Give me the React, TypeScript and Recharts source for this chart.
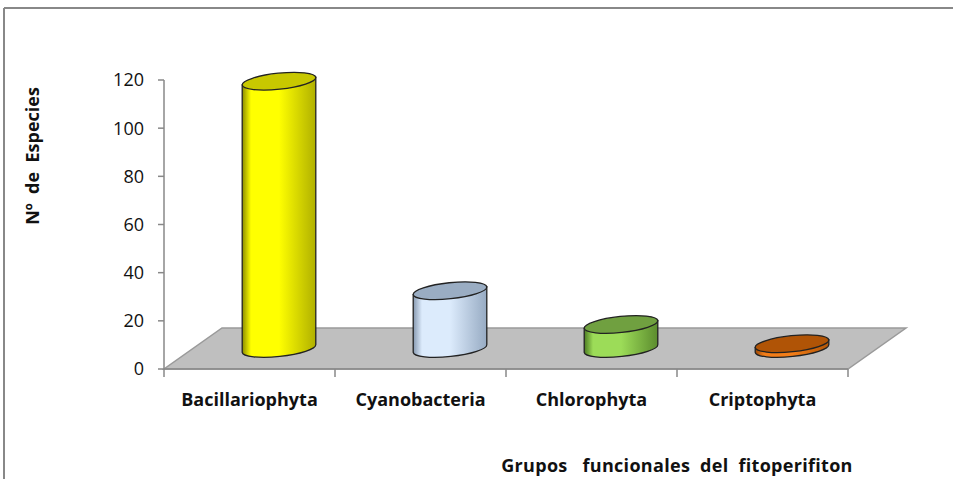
import React from 'react';
import { BarChart, Bar, XAxis, YAxis, Customized } from 'recharts';

const categories = ['Bacillariophyta', 'Cyanobacteria', 'Chlorophyta', 'Criptophyta'];
const especies = [111, 24, 10, 2];
const yTicks = [0, 20, 40, 60, 80, 100, 120];
const yTitle = 'Nº  de  Especies';
const xTitle = 'Grupos   funcionales  del  fitoperifiton';

const data = categories.map((name, i) => ({ name, especies: especies[i] }));

// colores: [borde izq, centro, borde der] del cuerpo y tapa
const bodyColors = [
  ['#8c8c00', '#ffff00', '#b0b000'],
  ['#8799b0', '#dcebfc', '#97abc3'],
  ['#4c7a22', '#9cdc58', '#5c8c2e'],
  ['#9a4604', '#f27d18', '#b35606'],
];
const topColors = ['#c8c800', '#9aadc3', '#70a040', '#b05406'];

const W = 953;
const H = 479;
const M = { top: 80, right: 105, bottom: 60, left: 104 };
const Y_AXIS_W = 60;
const PLOT_L = M.left + Y_AXIS_W;
const PLOT_R = W - M.right;
const PLOT_B = 369;
const BAND = (PLOT_R - PLOT_L) / categories.length;
const DEPTH_X = 58;
const DEPTH_Y = 41;
const FONT = "'Open Sans', sans-serif";
const GRAY = '#888888';

const Cylinder = (props: any) => {
  const { x, y, width, height, index } = props;
  const rx = width / 2;
  const ry = 8;
  const rot = -6;
  const t = (rot * Math.PI) / 180;
  const cx = x + width / 2 + DEPTH_X / 2;
  const top = y - DEPTH_Y / 2;
  const base = y + height - DEPTH_Y / 2;
  const dx = rx * Math.cos(t);
  const dy = rx * Math.sin(t);
  const c = bodyColors[index];
  const id = `cyl-${index}`;
  const body = `M${cx - dx},${top - dy} L${cx - dx},${base - dy} A${rx},${ry} ${rot} 0 0 ${cx + dx},${base + dy} L${cx + dx},${top + dy} Z`;
  return (
    <g>
      <defs>
        <linearGradient id={id} x1="0" x2="1" y1="0" y2="0">
          <stop offset="0" stopColor={c[0]} />
          <stop offset="0.12" stopColor={c[1]} />
          <stop offset="0.5" stopColor={c[1]} />
          <stop offset="1" stopColor={c[2]} />
        </linearGradient>
      </defs>
      <path d={body} fill={`url(#${id})`} stroke="#222" strokeWidth={1.3} />
      <ellipse
        cx={cx}
        cy={top}
        rx={rx}
        ry={ry}
        transform={`rotate(${rot} ${cx} ${top})`}
        fill={topColors[index]}
        stroke="#222"
        strokeWidth={1.3}
      />
    </g>
  );
};

const Floor = () => (
  <g>
    <line x1={4} y1={8} x2={W} y2={8} stroke={GRAY} strokeWidth={2} />
    <line x1={4} y1={8} x2={4} y2={H} stroke={GRAY} strokeWidth={2} />
    <polygon
      points={`${PLOT_L},${PLOT_B} ${PLOT_R},${PLOT_B} ${PLOT_R + DEPTH_X},${PLOT_B - DEPTH_Y} ${PLOT_L + DEPTH_X},${PLOT_B - DEPTH_Y}`}
      fill="#bfbfbf"
      stroke="#9a9a9a"
      strokeWidth={1.5}
    />
  </g>
);

const CategoryTick = (props: any) => {
  const { x, y, payload, index } = props;
  const y0 = PLOT_B;
  return (
    <g>
      {index === 0 && <line x1={x - BAND / 2} y1={y0} x2={x - BAND / 2} y2={y0 + 8} stroke={GRAY} strokeWidth={1.5} />}
      <line x1={x + BAND / 2} y1={y0} x2={x + BAND / 2} y2={y0 + 8} stroke={GRAY} strokeWidth={1.5} />
      <text x={x} y={y + 29} textAnchor="middle" fontFamily={FONT} fontWeight="bold" fontSize={18} fill="#111">
        {payload.value}
      </text>
    </g>
  );
};

export default function App() {
  return (
    <div style={{ position: 'absolute', left: 0, top: 0, width: W, height: H, background: '#fff' }}>
      <BarChart width={W} height={H} data={data} margin={M} barSize={74}>
        <Customized component={<Floor />} />
        <XAxis
          dataKey="name"
          height={50}
          axisLine={{ stroke: GRAY, strokeWidth: 1.5 }}
          tickLine={false}
          tick={<CategoryTick />}
          interval={0}
          label={{
            content: () => (
              <text x={677} y={472} textAnchor="middle" fontFamily={FONT} fontWeight="bold" fontSize={18} letterSpacing={0.3} fill="#111" style={{ whiteSpace: 'pre' }}>
                {xTitle}
              </text>
            ),
          }}
        />
        <YAxis
          width={Y_AXIS_W}
          domain={[0, 120]}
          ticks={yTicks}
          interval={0}
          axisLine={{ stroke: GRAY, strokeWidth: 1.5 }}
          tickLine={{ stroke: GRAY, strokeWidth: 1.5 }}
          tickSize={6}
          tickMargin={14}
          tick={{ fontFamily: FONT, fontSize: 18, fill: '#111' }}
          label={{
            content: () => (
              <text transform="translate(39,156) rotate(-90)" textAnchor="middle" fontFamily={FONT} fontWeight="bold" fontSize={18} fill="#111" style={{ whiteSpace: 'pre' }}>
                {yTitle}
              </text>
            ),
          }}
        />
        <Bar dataKey="especies" shape={<Cylinder />} isAnimationActive={false} />
      </BarChart>
    </div>
  );
}
